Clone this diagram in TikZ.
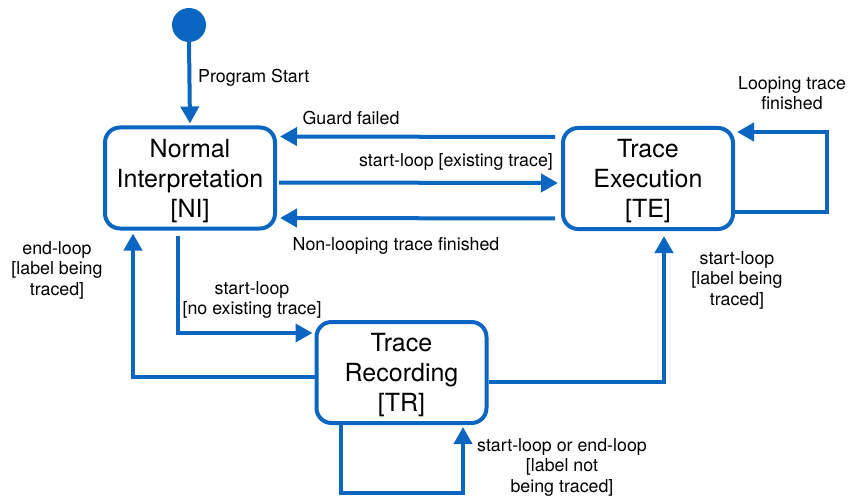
\documentclass[tikz,border=0pt]{standalone}
\usepackage{fontspec}
\setmainfont{TeX Gyre Heros}
\usetikzlibrary{arrows.meta}
\definecolor{umlblue}{RGB}{11,102,194}
\begin{document}
\begin{tikzpicture}[x=1pt,y=-1pt,
  state/.style={draw=umlblue,line width=4pt,rounded corners=15pt,fill=white,
    minimum width=170pt,minimum height=101pt,inner sep=0pt},
  statetext/.style={align=center,inner sep=0pt,yshift=-3pt,
    font=\fontsize{25}{30}\selectfont},
  arr/.style={draw=umlblue,line width=4pt,-{Triangle[length=17pt,width=18pt]}},
  lbl/.style={align=center,inner sep=0pt,font=\fontsize{17.8}{20.5}\selectfont}]
\useasboundingbox (0,0) rectangle (850,497);
\node[circle,fill=umlblue,minimum size=34pt,inner sep=0pt] (start) at (189,25) {};
\node[state,label={[statetext]center:Normal\\Interpretation\\{}[NI]}] (NI) at (190,178) {};
\node[state,label={[statetext]center:Trace\\Execution\\{}[TE]}] (TE) at (648,178.5) {};
\node[state,label={[statetext]center:Trace\\Recording\\{}[TR]}] (TR) at (401.5,372.5) {};
% connectors
\draw[arr,shorten >=2pt] (start.south) -- (NI.north);
\draw[arr,shorten <=6pt,shorten >=3pt] ([yshift=41.5pt]TE.west) -- ([yshift=41.5pt]NI.east);
\draw[arr,shorten <=2pt,shorten >=3pt] ([yshift=-4.5pt]NI.east) -- ([yshift=-4.5pt]TE.west);
\draw[arr,shorten <=6pt,shorten >=3pt] ([yshift=-40pt]TE.west) -- ([yshift=-40pt]NI.east);
\draw[arr,shorten >=2pt] ([yshift=-33.5pt]TE.east) -- ++(92,0) |- ([yshift=46.5pt]TE.east);
\draw[arr,shorten <=5pt,shorten >=2pt] ([xshift=-12pt]NI.south) |- ([yshift=39.5pt]TR.west);
\draw[arr,shorten >=3pt] ([yshift=-4.5pt]TR.west) -| ([xshift=-57pt]NI.south);
\draw[arr,shorten >=5pt] ([yshift=-9.5pt]TR.east) -| ([xshift=16pt]TE.south);
\draw[arr,shorten >=2pt] ([xshift=-60.5pt]TR.south) -- ++(0,68) -| ([xshift=61.5pt]TR.south);
% labels
\node[lbl,anchor=west] (lps) at (198,78) {Program Start};
\node[lbl] (lgf) at (351,118) {Guard failed};
\node[lbl] (lse) at (456,162) {start-loop [existing trace]};
\node[lbl] (lnl) at (396,246) {Non-looping trace finished};
\node[lbl] (llt) at (792,93) {Looping trace\\finished};
\node[lbl] (lte) at (737,280) {start-loop\\{}[label being\\traced]};
\node[lbl] (lel) at (57,270) {end-loop\\{}[label being\\traced]};
\node[lbl] (lne) at (252,300) {start-loop\\{}[no existing trace]};
\node[lbl] (ltr) at (562,467) {start-loop or end-loop\\{}[label not\\being traced]};
\end{tikzpicture}
\end{document}
